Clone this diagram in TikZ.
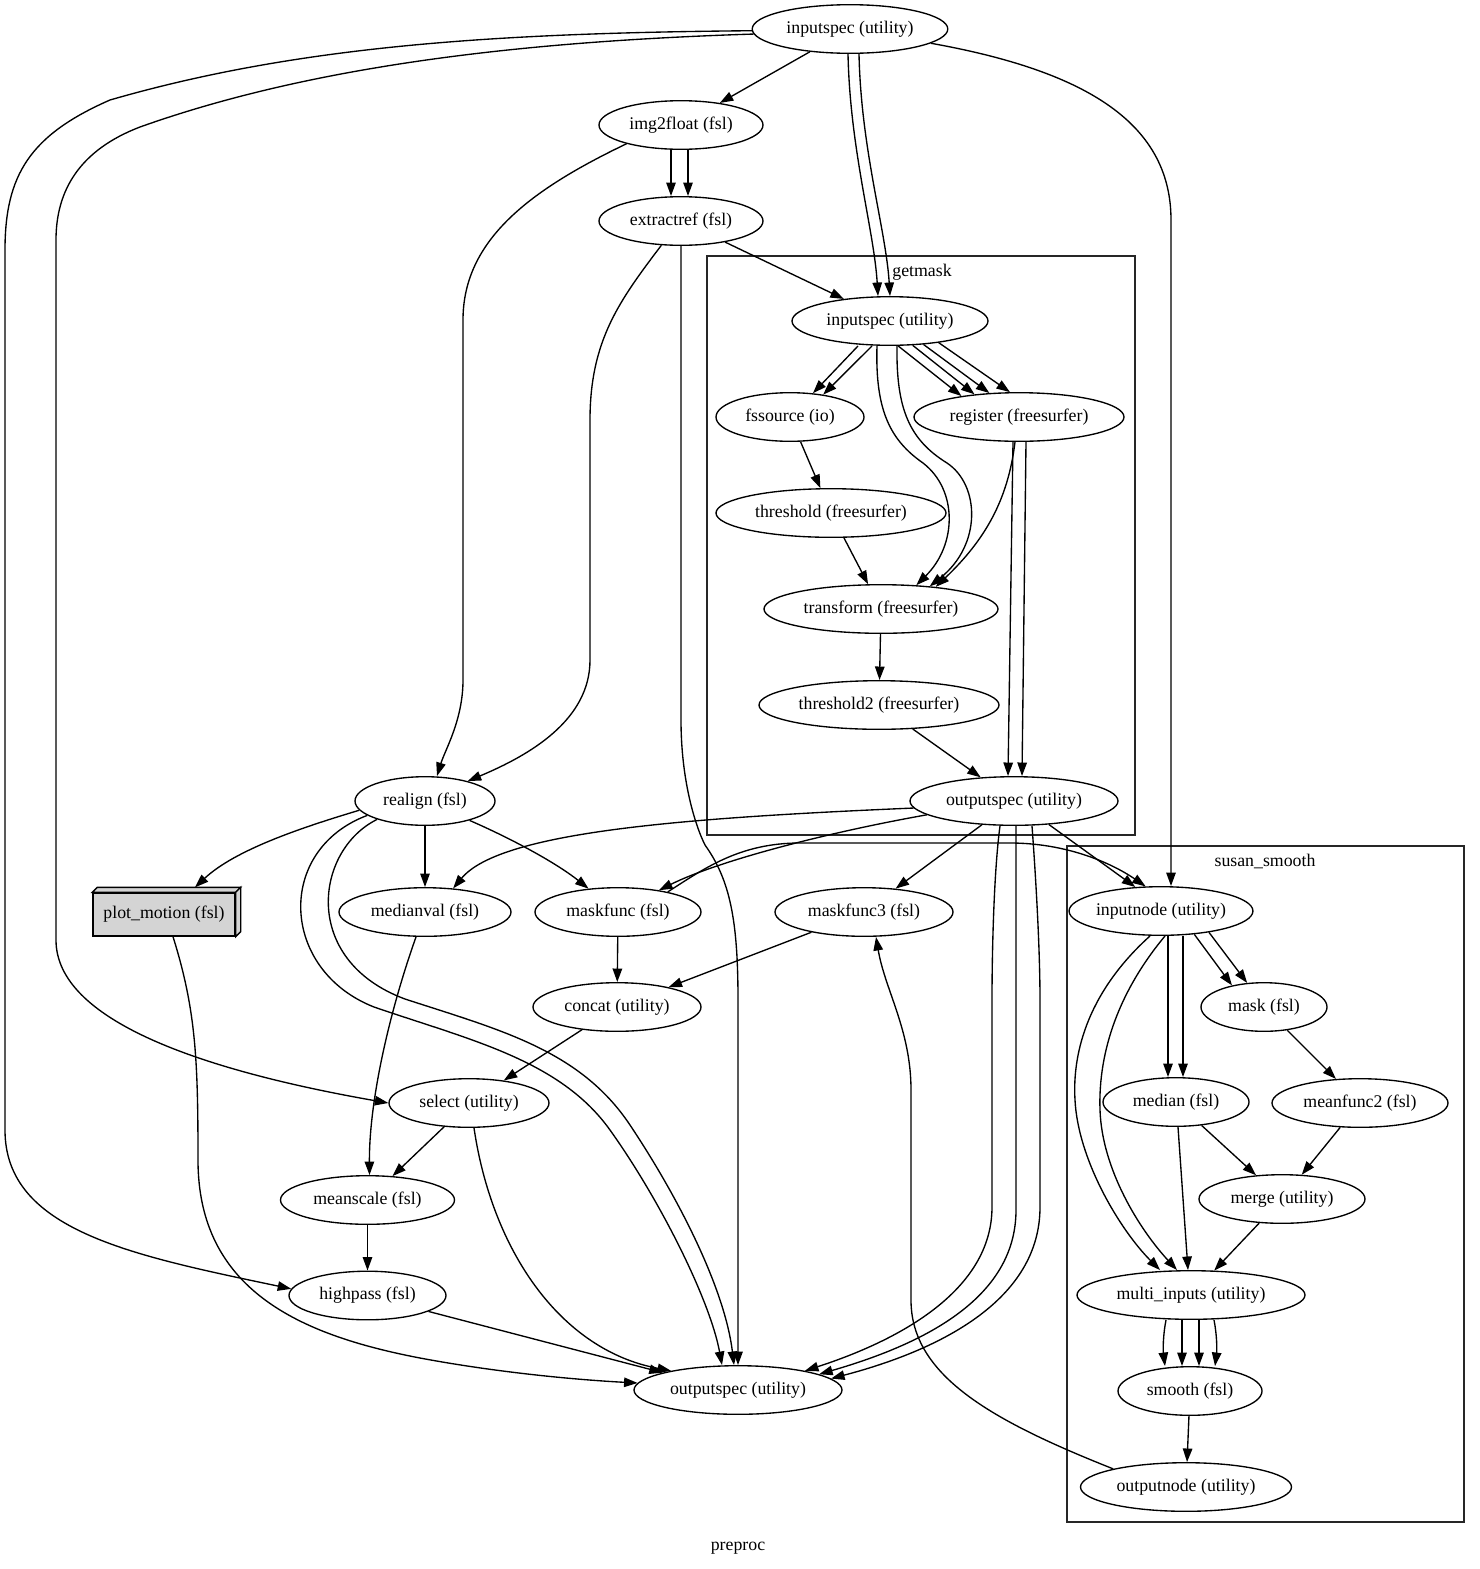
\documentclass[tikz,border=0pt]{standalone}
\usepackage{fontspec}
\setmainfont{Liberation Serif}
\usetikzlibrary{arrows.meta,shapes.geometric}
\begin{document}
\begin{tikzpicture}[x=1pt,y=-1pt,
 nd/.style={ellipse, draw, line width=1.35pt, inner sep=0pt, minimum height=48.6pt, font=\fontsize{17.8}{20}\selectfont},
 e/.style={draw, line width=1.35pt, -{Triangle[length=13.5pt,width=9.5pt]}},
 clus/.style={draw=black!85, line width=1.35pt},
 lab/.style={font=\fontsize{17.8}{20}\selectfont, inner sep=0pt}]
\path[use as bounding box] (0,0) rectangle (1480,1569);
% clusters
\draw[clus] (707,256) rectangle (1135,835);
\node[lab] (gml) at (922,272) {getmask};
\draw[clus] (1067,846) rectangle (1464,1522);
\node[lab] (ssl) at (1265,861) {susan\_smooth};
\node[lab] (ppl) at (738,1548) {preproc};
% nodes
\node[nd, minimum width=195.6] (in0) at (850,29) {inputspec (utility)};
\node[nd, minimum width=164] (i2f) at (681,125) {img2float (fsl)};
\node[nd, minimum width=164] (ext) at (681,221) {extractref (fsl)};
\node[nd, minimum width=196] (gin) at (890,321) {inputspec (utility)};
\node[nd, minimum width=148] (fss) at (790,417) {fssource (io)};
\node[nd, minimum width=210] (reg) at (1019,417) {register (freesurfer)};
\node[nd, minimum width=230] (th) at (831,513) {threshold (freesurfer)};
\node[nd, minimum width=234] (tr) at (881,609) {transform (freesurfer)};
\node[nd, minimum width=240] (th2) at (879,705) {threshold2 (freesurfer)};
\node[nd, minimum width=208] (gout) at (1014,801) {outputspec (utility)};
\node[nd, minimum width=140] (ra) at (425,801) {realign (fsl)};
\node[draw, line width=1.35pt, fill=black!17, minimum width=142, minimum height=43, inner sep=0pt, font=\fontsize{17.8}{20}\selectfont] (pm) at (164,914.5) {plot\_motion (fsl)};
\draw[line width=1.35pt, fill=black!17] (pm.north west) -- ++(5,-5) -- ([xshift=5,yshift=5]pm.north east) -- (pm.north east) -- cycle;
\draw[line width=1.35pt, fill=black!17] (pm.north east) -- ++(5,-5) -- ([xshift=5,yshift=5]pm.south east) -- (pm.south east) -- cycle;
\node[nd, minimum width=172] (mv) at (425,912) {medianval (fsl)};
\node[nd, minimum width=166] (mf) at (618,912) {maskfunc (fsl)};
\node[nd, minimum width=178] (mf3) at (864,912) {maskfunc3 (fsl)};
\node[nd, minimum width=172] (inn) at (1161,911) {inputnode (utility)};
\node[nd, minimum width=126] (mask) at (1264,1007) {mask (fsl)};
\node[nd, minimum width=168] (cc) at (617,1007) {concat (utility)};
\node[nd, minimum width=160] (sel) at (469,1103) {select (utility)};
\node[nd, minimum width=146] (med) at (1176,1102) {median (fsl)};
\node[nd, minimum width=176] (mf2) at (1360,1103) {meanfunc2 (fsl)};
\node[nd, minimum width=174] (ms) at (367.5,1200) {meanscale (fsl)};
\node[nd, minimum width=166] (mrg) at (1282,1199) {merge (utility)};
\node[nd, minimum width=157] (hp) at (367.5,1295.5) {highpass (fsl)};
\node[nd, minimum width=228] (mi) at (1191,1295) {multi\_inputs (utility)};
\node[nd, minimum width=208] (out) at (738,1390) {outputspec (utility)};
\node[nd, minimum width=144] (sm) at (1190,1391) {smooth (fsl)};
\node[nd, minimum width=211] (on) at (1186,1487) {outputnode (utility)};
% top inputspec
\draw[e] (in0) -- (i2f);
\draw[e] ([xshift=-2]in0.south) .. controls (850,150) and (874,230) .. ([xshift=-12]gin.north);
\draw[e] ([xshift=9]in0.south) .. controls (861,150) and (886,230) .. (gin.north);
\draw[e] (in0.181) .. controls (500,33) and (300,45) .. (110,100) .. controls (30,135) and (5,175) .. (5,250) -- (5,1130) .. controls (5,1230) and (130,1255) .. (hp.175);
\draw[e] (in0.183) .. controls (500,42) and (300,70) .. (140,127) .. controls (80,150) and (56,190) .. (56,240) -- (56,940) .. controls (56,1020) and (200,1070) .. (sel.west);
\draw[e] (in0.350) .. controls (1080,70) and (1171,120) .. (1171,220) -- ([xshift=10]inn.north);
% img2float
\draw[e] ([xshift=-10]i2f.south) -- ([xshift=-10]ext.north);
\draw[e] ([xshift=7]i2f.south) -- ([xshift=7]ext.north);
\draw[e] (i2f.199) .. controls (530,190) and (463,240) .. (463,320) -- (463,680) .. controls (463,720) and (445,750) .. ([xshift=12]ra.north);
% extractref
\draw[e] (ext) -- (gin);
\draw[e] (ext.231) .. controls (620,300) and (590,340) .. (590,420) -- (590,660) .. controls (590,720) and (530,755) .. (ra.25);
\draw[e] (ext.south) -- (681,720) .. controls (681,780) and (695,825) .. (705,845) .. controls (730,880) and (738,920) .. (738,1000) -- (out.north);
% getmask
\draw[e] ([xshift=-32]gin.south) -- (fss.46);
\draw[e] ([xshift=-18]gin.south) -- (fss.34);
\draw[e] (gin.288) -- (reg.160);
\draw[e] (gin.313) -- (reg.153);
\draw[e] (gin.325) -- (reg.141);
\draw[e] (gin.336) -- (reg.110);
\draw[e] ([xshift=-13]gin.south) .. controls (875,410) and (890,440) .. (923,463) .. controls (958,490) and (957,545) .. (tr.34);
\draw[e] ([xshift=7]gin.south) .. controls (896,410) and (910,440) .. (947,463) .. controls (980,485) and (982,545) .. (tr.25);
\draw[e] ([xshift=-4]reg.south) .. controls (1008,500) and (985,540) .. (tr.22);
\draw[e] ([xshift=-6]reg.south) -- ([xshift=-6]gout.north);
\draw[e] ([xshift=7]reg.south) -- ([xshift=8]gout.north);
\draw[e] (fss) -- (th);
\draw[e] (th) -- (tr);
\draw[e] (tr) -- (th2);
\draw[e] (th2) -- (gout);
% getmask outputspec
\draw[e] (gout.184) .. controls (680,818) and (500,832) .. (mv.40);
\draw[e] (gout.189) .. controls (830,832) and (720,860) .. (mf.28);
\draw[e] (gout) -- (mf3);
\draw[e] (gout.326) -- (inn.137);
\draw[e] ([xshift=-14]gout.south) .. controls (994,870) and (992,950) .. (992,1000) -- (992,1207) .. controls (992,1290) and (900,1340) .. (out.16);
\draw[e] ([xshift=2]gout.south) -- (1016,1210) .. controls (1016,1300) and (920,1345) .. (out.11);
\draw[e] ([xshift=18]gout.south) .. controls (1036,880) and (1040,950) .. (1040,1000) -- (1040,1207) .. controls (1040,1300) and (940,1350) .. (out.7);
% maskfunc -> inputnode
\draw[e] (mf.22) .. controls (705,868) and (740,843) .. (800,843) -- (1010,843) .. controls (1065,843) and (1110,862) .. (inn.122);
% realign
\draw[e] (ra.188) .. controls (300,828) and (235,850) .. ([xshift=31,yshift=5]pm.north);
\draw[e] (ra) -- (mv);
\draw[e] (ra) .. controls (510,838) and (555,862) .. (mf);
\draw[e] (ra.194) .. controls (275,850) and (280,970) .. (374,1007) .. controls (470,1040) and (560,1060) .. (610,1130) .. controls (660,1200) and (710,1300) .. ([xshift=-16]out.north);
\draw[e] (ra.201) .. controls (315,850) and (300,960) .. (405,999) .. controls (500,1030) and (580,1050) .. (630,1125) .. controls (680,1200) and (725,1290) .. ([xshift=-4]out.north);
% plot_motion
\draw[e] ([xshift=9]pm.south) .. controls (196,1010) and (198,1060) .. (198,1160) .. controls (198,1290) and (300,1335) .. (420,1358) .. controls (500,1373) and (580,1380) .. (out.176);
% lower left
\draw[e] ([xshift=-9]mv.south) .. controls (390,1010) and (369,1100) .. ([xshift=2]ms.north);
\draw[e] (mf) -- (cc);
\draw[e] (mf3) -- (cc);
\draw[e] (cc) -- (sel);
\draw[e] (sel) -- (ms);
\draw[e] ([xshift=5]sel.south) .. controls (492,1250) and (560,1350) .. (out.164);
\draw[e] (ms) -- (hp);
\draw[e] (hp) -- (out.167);
% susan_smooth
\draw[e] (inn.325) -- (mask.146);
\draw[e] (inn.336) -- (mask.125);
\draw[e] ([xshift=7]inn.south) -- ([xshift=-8]med.north);
\draw[e] ([xshift=22]inn.south) -- ([xshift=7]med.north);
\draw[e] ([xshift=-11]inn.south) .. controls (1090,990) and (1072,1050) .. (1075,1100) .. controls (1078,1160) and (1120,1230) .. ([xshift=-31]mi.north);
\draw[e] ([xshift=4]inn.south) .. controls (1120,990) and (1098,1050) .. (1100,1110) .. controls (1102,1170) and (1140,1230) .. ([xshift=-14]mi.north);
\draw[e] (mask) -- (mf2);
\draw[e] (med) -- (mrg);
\draw[e] ([xshift=2]med.south) -- ([xshift=-3]mi.north);
\draw[e] (mf2) -- (mrg);
\draw[e] (mrg) -- (mi);
\draw[e] ([xshift=-25]mi.south) .. controls (1163,1335) and (1163,1350) .. ([xshift=-25]sm.north);
\draw[e] ([xshift=-9]mi.south) -- ([xshift=-8]sm.north);
\draw[e] ([xshift=8]mi.south) -- ([xshift=9]sm.north);
\draw[e] ([xshift=23]mi.south) .. controls (1217,1335) and (1217,1350) .. ([xshift=25]sm.north);
\draw[e] (sm) -- (on);
\draw[e] (on.166) .. controls (990,1420) and (911,1375) .. (911,1300) -- (911,1090) .. controls (911,1030) and (885,990) .. ([xshift=12]mf3.south);
\end{tikzpicture}
\end{document}
